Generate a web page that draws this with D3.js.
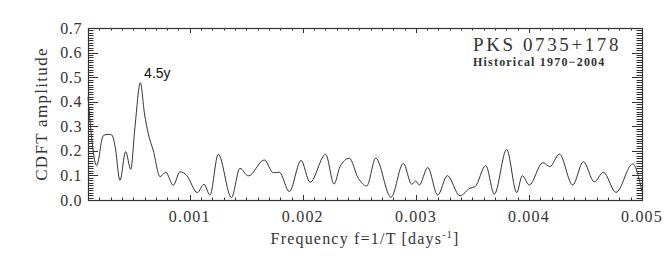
<!DOCTYPE html>
<html>
<head>
<meta charset="utf-8">
<script src="https://cdn.jsdelivr.net/npm/d3@7"></script>
<style>
  html, body { margin: 0; padding: 0; background: #fff; }
  svg { display: block; }
  .serif { font-family: "Liberation Serif", "DejaVu Serif", serif; fill: #333; }
</style>
</head>
<body>
<svg id="chart" width="668" height="256"></svg>
<script>
/* ── Data ──────────────────────────────────────────────── */
const freq = [
  0.000100, 0.000177, 0.000233, 0.000268, 0.000310, 0.000339, 0.000383, 0.000433,
  0.000478, 0.000516, 0.000563, 0.000600, 0.000633, 0.000678, 0.000737, 0.000787,
  0.000854, 0.000914, 0.000973, 0.001067, 0.001126, 0.001179, 0.001252, 0.001369,
  0.001444, 0.001518, 0.001659, 0.001739, 0.001792, 0.001881, 0.001984, 0.002064,
  0.002202, 0.002276, 0.002329, 0.002411, 0.002491, 0.002565, 0.002645, 0.002780,
  0.002889, 0.002963, 0.002999, 0.003030, 0.003105, 0.003193, 0.003278, 0.003390,
  0.003479, 0.003523, 0.003618, 0.003694, 0.003803, 0.003892, 0.003941, 0.004003,
  0.004122, 0.004186, 0.004269, 0.004387, 0.004481, 0.004578, 0.004658, 0.004770,
  0.004918, 0.005000
];
const amplitude = [
  0.420, 0.140, 0.260, 0.267, 0.265, 0.220, 0.080, 0.197,
  0.125, 0.300, 0.477, 0.350, 0.270, 0.200, 0.095, 0.113,
  0.060, 0.115, 0.100, 0.030, 0.064, 0.020, 0.186, 0.010,
  0.129, 0.098, 0.163, 0.111, 0.113, 0.034, 0.161, 0.072,
  0.186, 0.065, 0.136, 0.170, 0.088, 0.057, 0.170, 0.011,
  0.149, 0.064, 0.077, 0.061, 0.132, 0.020, 0.099, 0.017,
  0.048, 0.054, 0.140, 0.024, 0.206, 0.030, 0.099, 0.061,
  0.152, 0.136, 0.187, 0.061, 0.156, 0.074, 0.113, 0.031,
  0.147, 0.034
];
const xTickLabels = ['0.001', '0.002', '0.003', '0.004', '0.005'];
const yTickLabels = ['0.0', '0.1', '0.2', '0.3', '0.4', '0.5', '0.6', '0.7'];
const peakNote = { f: 0.000563, a: 0.477, text: '4.5y' };

/* ── Layout ────────────────────────────────────────────── */
const L = 88, R = 642, T = 28, B = 200;
const ink = '#333';

const svg = d3.select('#chart');
const x = d3.scaleLinear().domain([0.0001, 0.005]).range([L, R]);
const y = d3.scaleLinear().domain([0, 0.7]).range([B, T]);

/* ── Ticks (IDL style, inward on all four sides) ───────── */
const xMinor = d3.range(1, 51).map(i => i * 0.0001);
const xMajor = xTickLabels.map(Number);
const yMinor = d3.range(0, 71).map(i => i * 0.01);
const yMajor = yTickLabels.map(Number);

const tickG = svg.append('g').attr('stroke', ink).attr('stroke-width', 1);

function hTicks(vals, len) {
  vals.forEach(v => {
    const px = Math.round(x(v)) + 0.5;
    tickG.append('line').attr('x1', px).attr('x2', px).attr('y1', B).attr('y2', B - len);
    tickG.append('line').attr('x1', px).attr('x2', px).attr('y1', T).attr('y2', T + len);
  });
}
function vTicks(vals, len) {
  vals.forEach(v => {
    const py = Math.round(y(v)) + 0.5;
    tickG.append('line').attr('x1', L).attr('x2', L + len).attr('y1', py).attr('y2', py);
    tickG.append('line').attr('x1', R).attr('x2', R - len).attr('y1', py).attr('y2', py);
  });
}
hTicks(xMinor, 2.5);
hTicks(xMajor, 5);
vTicks(yMinor, 5.5);
vTicks(yMajor, 10);

// frame
svg.append('rect')
  .attr('x', L + 0.5).attr('y', T + 0.5)
  .attr('width', R - L).attr('height', B - T)
  .attr('fill', 'none').attr('stroke', ink).attr('stroke-width', 1.2);

/* ── Tick labels ───────────────────────────────────────── */
svg.append('g').selectAll('text')
  .data(yTickLabels).join('text')
  .attr('class', 'serif')
  .attr('x', 82)
  .attr('y', d => y(+d) + 5.5)
  .attr('text-anchor', 'end')
  .style('font-size', '16px')
  .style('letter-spacing', '0.6px')
  .text(d => d);

svg.append('g').selectAll('text')
  .data(xTickLabels).join('text')
  .attr('class', 'serif')
  .attr('x', d => x(+d))
  .attr('y', 222)
  .attr('text-anchor', 'middle')
  .style('font-size', '16px')
  .style('letter-spacing', '1.2px')
  .text(d => d);

/* ── Axis titles ───────────────────────────────────────── */
const xt = svg.append('text')
  .attr('class', 'serif')
  .attr('x', (L + R) / 2)
  .attr('y', 244)
  .attr('text-anchor', 'middle')
  .style('font-size', '16px')
  .style('letter-spacing', '1.2px');
xt.append('tspan').text('Frequency f=1/T [days');
xt.append('tspan').attr('dy', -6).style('font-size', '10px').text('-1');
xt.append('tspan').attr('dy', 6).text(']');

svg.append('text')
  .attr('class', 'serif')
  .attr('transform', `translate(47,${(T + B) / 2}) rotate(-90)`)
  .attr('text-anchor', 'middle')
  .style('font-size', '17px')
  .style('letter-spacing', '1.3px')
  .text('CDFT amplitude');

/* ── Curve ─────────────────────────────────────────────── */
const pts = freq.map((f, i) => [f, amplitude[i]]);
svg.append('path')
  .datum(pts)
  .attr('fill', 'none')
  .attr('stroke', ink)
  .attr('stroke-width', 1)
  .attr('d', d3.line().x(d => x(d[0])).y(d => y(d[1])).curve(d3.curveMonotoneX));

/* ── Annotations ───────────────────────────────────────── */
svg.append('text')
  .attr('x', x(peakNote.f) + 17)
  .attr('y', y(peakNote.a) - 5)
  .attr('text-anchor', 'middle')
  .style('font-family', '"Liberation Sans", Arial, sans-serif')
  .style('font-size', '14px')
  .style('fill', '#111')
  .text(peakNote.text);

svg.append('text')
  .attr('class', 'serif')
  .attr('x', 473).attr('y', 51)
  .style('font-size', '19px')
  .style('letter-spacing', '2.6px')
  .text('PKS 0735+178');

svg.append('text')
  .attr('class', 'serif')
  .attr('x', 473).attr('y', 66)
  .style('font-size', '12px')
  .style('font-weight', 'bold')
  .style('letter-spacing', '1.2px')
  .text('Historical 1970\u22122004');
</script>
</body>
</html>
